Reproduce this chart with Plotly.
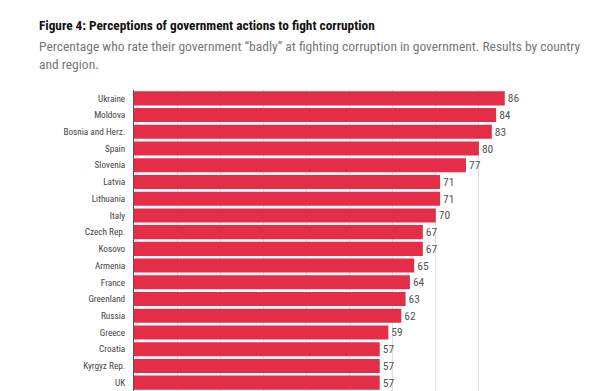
import plotly.graph_objects as go

countries = ["Ukraine", "Moldova", "Bosnia and Herz.", "Spain", "Slovenia", "Latvia",
             "Lithuania", "Italy", "Czech Rep.", "Kosovo", "Armenia", "France",
             "Greenland", "Russia", "Greece", "Croatia", "Kyrgyz Rep.", "UK"]
values = [86, 84, 83, 80, 77, 71, 71, 70, 67, 67, 65, 64, 63, 62, 59, 57, 57, 57]

OFF = 8  # default page body margin
W, H = 609 - OFF, 391 - OFF
L, R, T, B = 134 - OFF, 522 - OFF, 89.6 - OFF, 391 - OFF
FONT = "Roboto Condensed"

def px(x):
    return (x - OFF - L) / (R - L)

def py(y):
    return (B - (y - OFF)) / (B - T)

fig = go.Figure(go.Bar(
    x=values, y=countries, orientation="h",
    marker=dict(color="#E42D47", line=dict(width=0)),
    text=[str(v) for v in values], textposition="outside",
    textfont=dict(family=FONT, size=11.5, color="#555555"),
    cliponaxis=False,
))

fig.update_layout(
    width=W, height=H,
    margin=dict(l=L, r=W - R, t=T, b=H - B, pad=0),
    paper_bgcolor="white", plot_bgcolor="white",
    bargap=0.16,
    showlegend=False,
    xaxis=dict(range=[0, 90], dtick=10, showgrid=True, gridcolor="#E0E0E0", gridwidth=1,
               showticklabels=False, zeroline=False, showline=False, ticks=""),
    yaxis=dict(autorange="reversed", showgrid=False, ticks="", showline=True, automargin=False,
               linecolor="#555555", linewidth=1,
               tickfont=dict(family=FONT, size=9.2, color="#444444"), ticklabelstandoff=6),
    annotations=[
        dict(text="<b>Figure 4: Perceptions of government actions to fight corruption</b>",
             x=px(37), y=py(25.5), xref="paper", yref="paper", xanchor="left", yanchor="middle",
             showarrow=False, font=dict(family=FONT, size=13.3, color="#111111")),
        dict(text="Percentage who rate their government “badly” at fighting corruption in government. Results by country",
             x=px(37), y=py(46), xref="paper", yref="paper", xanchor="left", yanchor="middle",
             showarrow=False, font=dict(family=FONT, size=13.5, color="#777777")),
        dict(text="and region.",
             x=px(37), y=py(64), xref="paper", yref="paper", xanchor="left", yanchor="middle",
             showarrow=False, font=dict(family=FONT, size=13.5, color="#777777")),
    ],
)

fig.write_html("out.html")
